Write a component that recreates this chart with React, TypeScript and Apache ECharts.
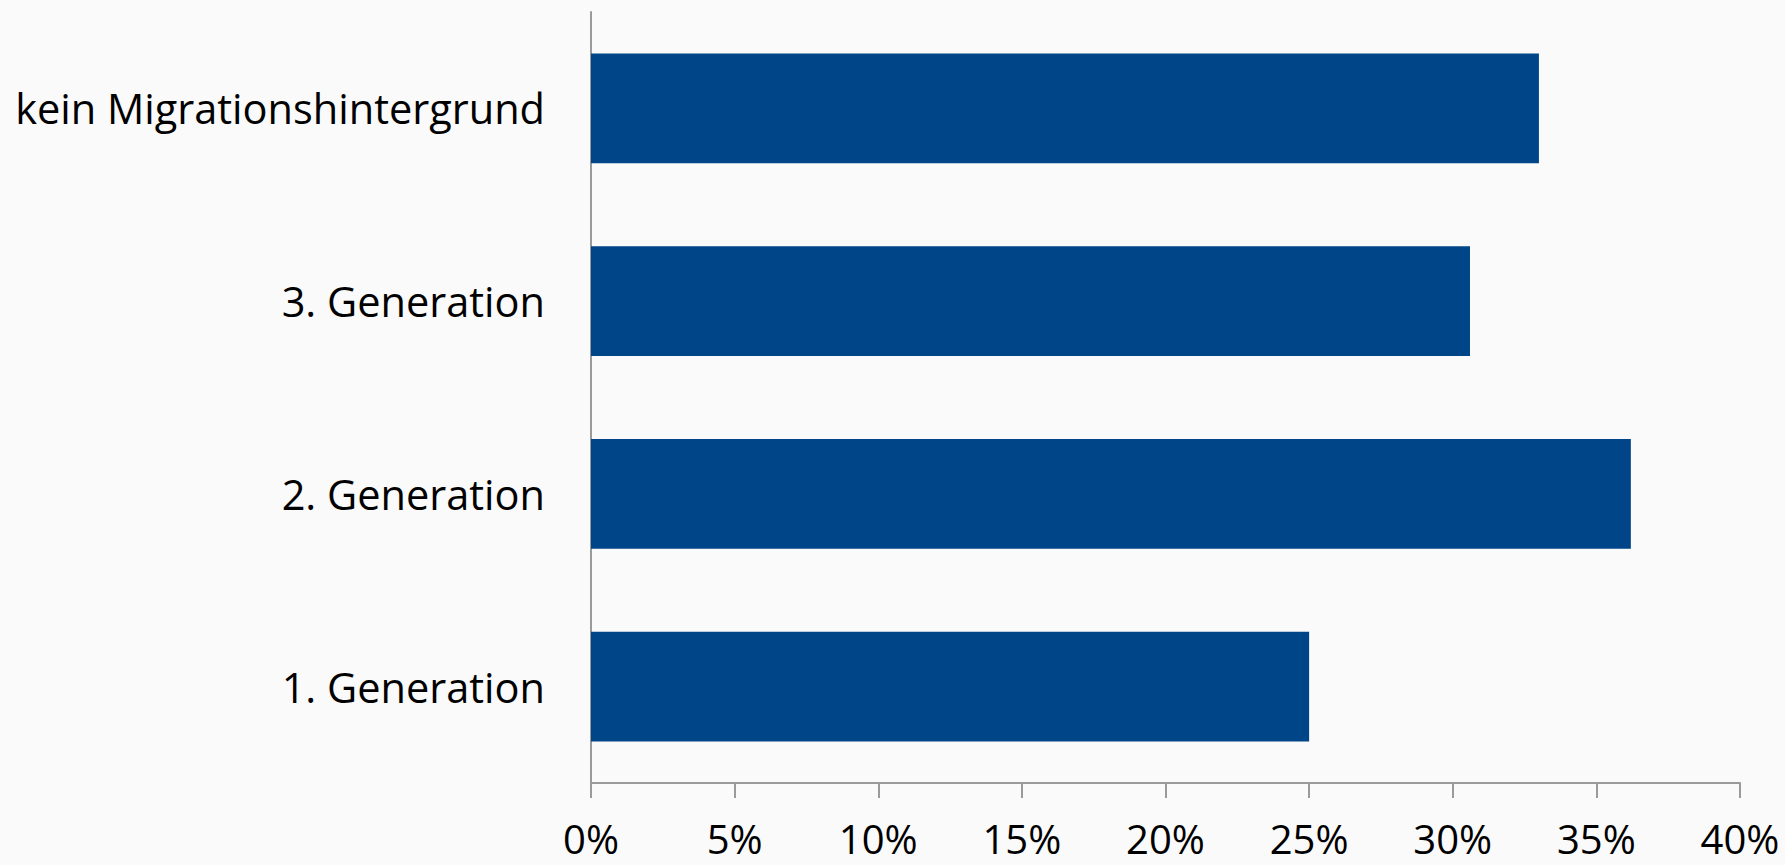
import React, { useEffect, useRef } from "react";
import * as echarts from "echarts";

const categories = ["1. Generation", "2. Generation", "3. Generation", "kein Migrationshintergrund"];
const values = [25.0, 36.2, 30.6, 33.0];
const xTicks = [0, 5, 10, 15, 20, 25, 30, 35, 40];

export default function App() {
  const ref = useRef<HTMLDivElement>(null);
  useEffect(() => {
    const chart = echarts.init(ref.current!, null, { renderer: "svg" });
    chart.setOption({
      animation: false,
      backgroundColor: "#fafafa",
      grid: { left: 591, right: 45, top: 12, bottom: 82, containLabel: false },
      xAxis: {
        type: "value",
        min: xTicks[0],
        max: xTicks[xTicks.length - 1],
        interval: 5,
        splitLine: { show: false },
        axisLine: { show: true, lineStyle: { color: "#9a9a9a", width: 2 } },
        axisTick: { show: true, length: 15, lineStyle: { color: "#9a9a9a", width: 2 } },
        axisLabel: {
          formatter: (v: number) => `${v}%`,
          fontFamily: "Open Sans",
          fontSize: 40,
          lineHeight: 32,
          color: "#000",
          margin: 39,
        },
      },
      yAxis: {
        type: "category",
        data: categories,
        axisLine: { show: true, lineStyle: { color: "#9a9a9a", width: 2 } },
        axisTick: { show: false },
        axisLabel: {
          fontFamily: "Open Sans",
          fontSize: 41.5,
          color: "#000",
          margin: 46,
        },
      },
      series: [
        {
          type: "bar",
          data: values,
          barCategoryGap: "43%",
          itemStyle: { color: "#004587" },
        },
      ],
    });
    return () => chart.dispose();
  }, []);
  return (
    <div
      ref={ref}
      style={{ position: "fixed", left: 0, top: 0, width: 1785, height: 865 }}
    />
  );
}
